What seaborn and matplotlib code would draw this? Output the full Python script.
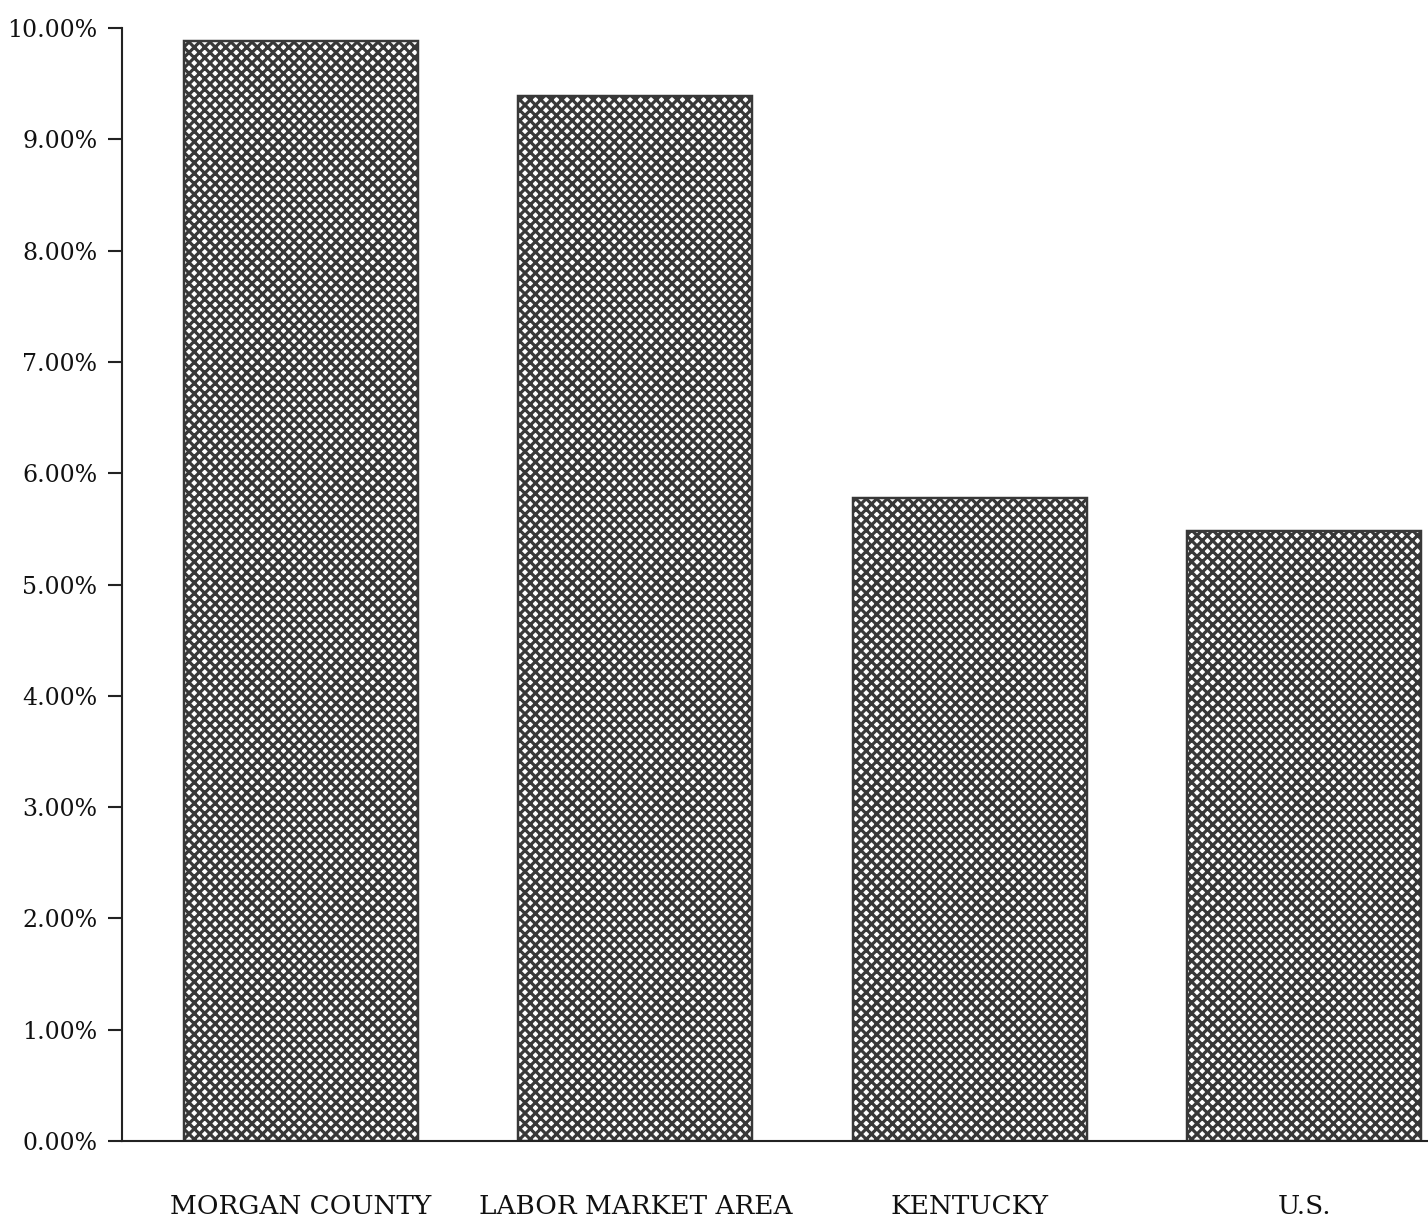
import matplotlib
matplotlib.use("Agg")
import matplotlib.pyplot as plt
import seaborn as sns
import pandas as pd
from matplotlib.ticker import FuncFormatter

areas = ["MORGAN COUNTY", "LABOR MARKET AREA", "KENTUCKY", "U.S."]
rates = [9.88, 9.39, 5.78, 5.48]
y_ticks = [0, 1, 2, 3, 4, 5, 6, 7, 8, 9, 10]

df = pd.DataFrame({"area": areas, "rate": rates})

sns.set_style("white")
plt.rcParams["font.family"] = ["DejaVu Serif"]
plt.rcParams["hatch.linewidth"] = 1.8

DPI = 126
fig = plt.figure(figsize=(1428 / DPI, 1224 / DPI), dpi=DPI)
ax = fig.add_axes([122 / 1428, 1 - 1141 / 1224, 1 - 122 / 1428, (1141 - 28) / 1224])

# cross-hatched bars, like the scanned original
sns.barplot(data=df, x="area", y="rate", ax=ax, color="white", saturation=1,
            edgecolor="#383838", linewidth=1.4, hatch="xxxx", width=0.70)

ax.set_xlim(-0.535, 3.37)
ax.set_ylim(0, 10)
ax.set_yticks(y_ticks)
ax.yaxis.set_major_formatter(FuncFormatter(lambda v, p: f"{v:.2f}%"))
ax.set_xlabel("")
ax.set_ylabel("")

sns.despine(ax=ax, top=True, right=True)
for s in ["left", "bottom"]:
    ax.spines[s].set_color("#222222")
    ax.spines[s].set_linewidth(1.2)

ax.tick_params(axis="y", direction="out", length=8, width=1.2, color="#222222",
               labelsize=13.5, pad=6, labelcolor="#111111", left=True)
ax.tick_params(axis="x", length=0, labelsize=15, pad=30, labelcolor="#111111")

fig.savefig("out.png", dpi=DPI, facecolor="white")
